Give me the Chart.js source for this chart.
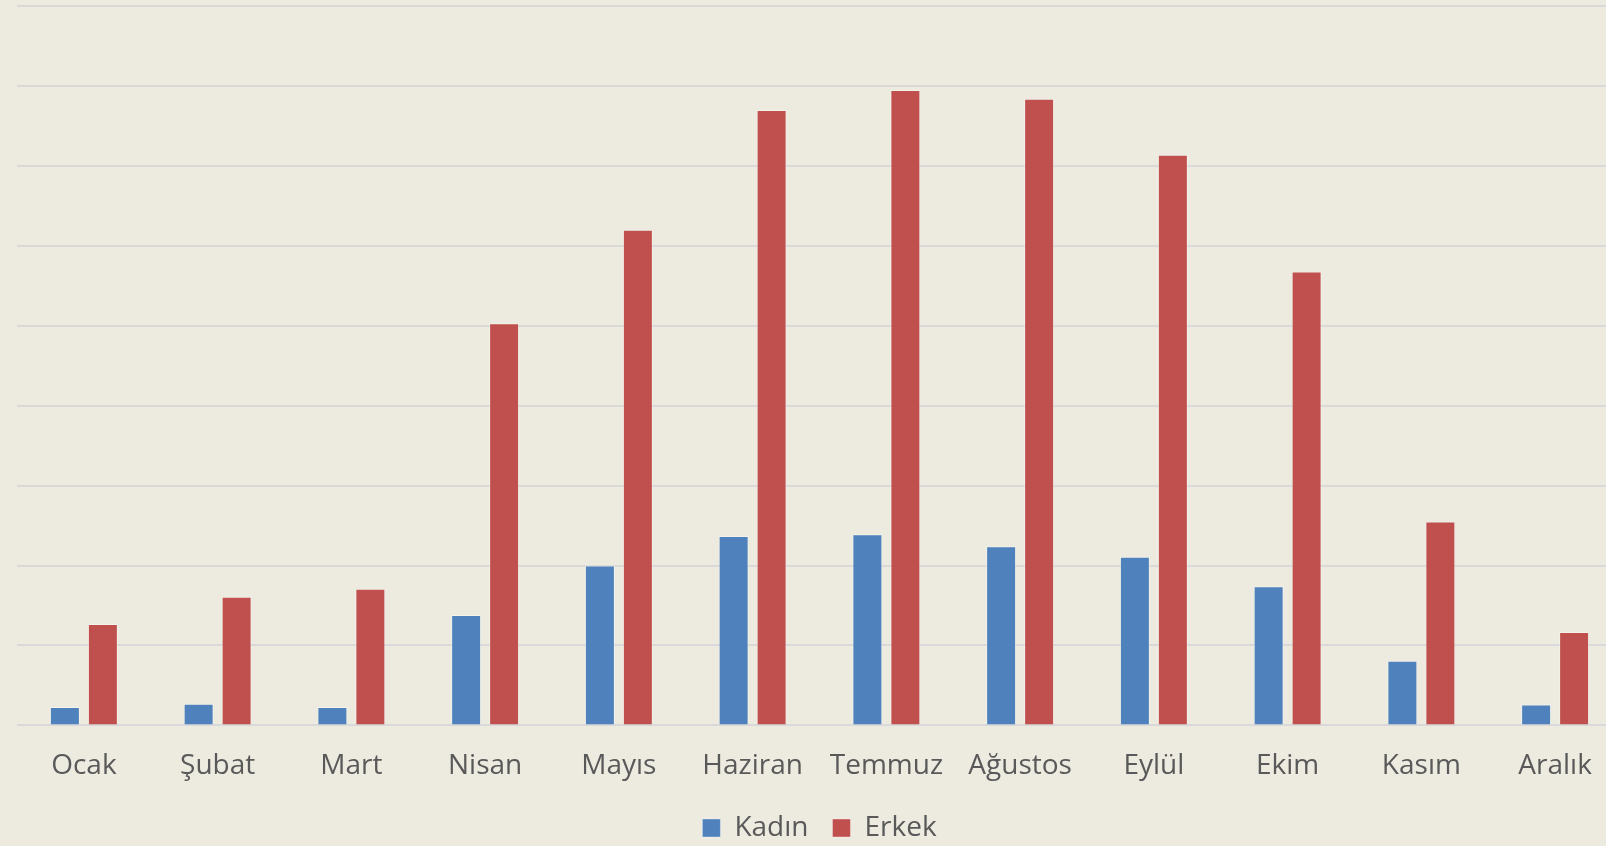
<!DOCTYPE html>
<html>
<head>
<meta charset="utf-8">
<script src="https://cdn.jsdelivr.net/npm/chart.js@4.4.1/dist/chart.umd.min.js"></script>
<style>
  html, body { margin: 0; padding: 0; background: #EDEBE0; overflow: hidden; }
  #wrap { width: 1606px; height: 846px; overflow: hidden; }
  canvas { display: block; }
</style>
</head>
<body>
<div id="wrap"><canvas id="monthChart" width="1642" height="846"></canvas></div>
<script>
const months = ['Ocak', 'Şubat', 'Mart', 'Nisan', 'Mayıs', 'Haziran', 'Temmuz', 'Ağustos', 'Eylül', 'Ekim', 'Kasım', 'Aralık'];
const kadin = [0.23, 0.27, 0.23, 1.38, 2.0, 2.37, 2.39, 2.24, 2.11, 1.74, 0.81, 0.26];
const erkek = [1.27, 1.61, 1.71, 5.03, 6.2, 7.7, 7.95, 7.84, 7.14, 5.68, 2.55, 1.17];
const seriesNames = ['Kadın', 'Erkek'];

document.addEventListener('DOMContentLoaded', function() {
    const ctx = document.getElementById('monthChart').getContext('2d');
    const textColor = '#595959';
    const font = { family: "'Open Sans', sans-serif", size: 28 };

    // nudge the legend up a bit, its padding also sets the gap between items
    const legendShift = {
        id: 'legendShift',
        afterLayout(chart) {
            if (chart.legend) chart.legend.top -= 17;
        }
    };

    new Chart(ctx, {
        type: 'bar',
        data: {
            labels: months,
            datasets: [{
                label: seriesNames[0],
                data: kadin,
                backgroundColor: '#4F81BD',
                borderColor: 'rgba(255,255,255,0.35)',
                borderWidth: 1
            }, {
                label: seriesNames[1],
                data: erkek,
                backgroundColor: '#C0504D',
                borderColor: 'rgba(255,255,255,0.35)',
                borderWidth: 1
            }]
        },
        options: {
            responsive: false,
            animation: false,
            categoryPercentage: 0.568,
            barPercentage: 0.789,
            layout: { padding: { left: 17, right: 20, top: 6, bottom: -23 } },
            scales: {
                x: {
                    grid: { display: false, drawTicks: false },
                    border: { display: false },
                    ticks: { color: textColor, font: font, padding: 24, maxRotation: 0, autoSkip: false }
                },
                y: {
                    min: 0,
                    max: 9,
                    grid: { color: '#D9D9D9', lineWidth: 2, drawTicks: false },
                    border: { display: false },
                    ticks: { display: false, stepSize: 1 }
                }
            },
            plugins: {
                legend: {
                    position: 'bottom',
                    labels: {
                        color: textColor,
                        font: font,
                        boxWidth: 18,
                        boxHeight: 18,
                        padding: 24
                    }
                },
                tooltip: { enabled: false }
            }
        },
        plugins: [legendShift]
    });
});
</script>
</body>
</html>
